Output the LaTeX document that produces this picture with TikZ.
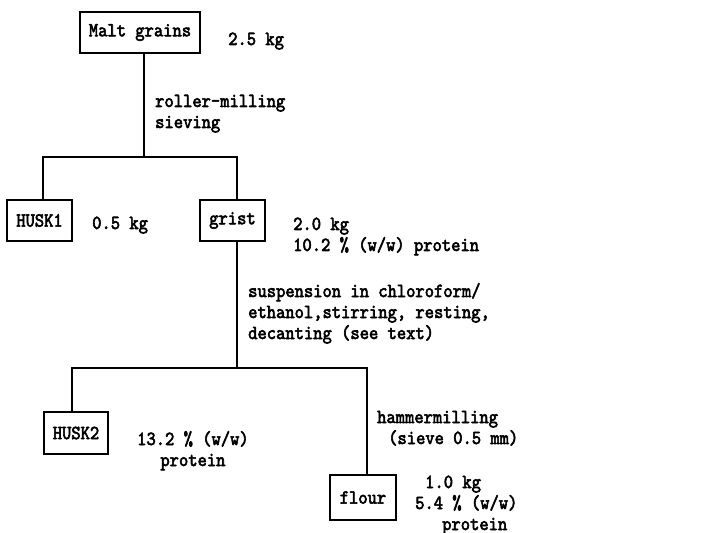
\documentclass[tikz,border=0pt]{standalone}
\usepackage{fontspec}
\newfontfamily\diagfont[FakeBold=2.8,FakeStretch=0.885]{lmmono10-regular.otf}
\begin{document}
\begin{tikzpicture}[x=1bp,y=-1bp,
  fs/.style={font=\diagfont\fontsize{20bp}{21bp}\selectfont},
  box/.style={fs, draw, line width=1.9bp, inner sep=0pt},
  lbl/.style={fs, inner sep=0pt, anchor=base west, align=left},
  conn/.style={line width=1.9bp}]
\useasboundingbox (0,0) rectangle (725,533);
% boxes
\node[box, minimum width=120bp, minimum height=41bp] (malt) at (140,32.5) {Malt grains};
\node[box, minimum width=65bp, minimum height=41bp] (husk1) at (39.5,220.5) {HUSK1};
\node[box, minimum width=65bp, minimum height=41bp] (grist) at (232.5,220.5) {grist};
\node[box, minimum width=64bp, minimum height=42bp] (husk2) at (76,433) {HUSK2};
\node[box, minimum width=66bp, minimum height=45bp] (flour) at (363,497.5) {flour};
% junctions
\coordinate (j1) at (144,157);
\coordinate (l1) at (43,157);
\coordinate (r1) at (237,157);
\coordinate (j2) at (237,368);
\coordinate (l2) at (72,368);
\coordinate (r2) at (367,368);
% connectors
\draw[conn] (malt.south -| j1) -- (j1);
\draw[conn] (l1 |- husk1.north) -- (l1) -- (r1) -- (r1 |- grist.north);
\draw[conn] (grist.south -| j2) -- (j2);
\draw[conn] (l2 |- husk2.north) -- (l2) -- (r2) -- (r2 |- flour.north);
% labels (anchor at baseline of the last line)
\node[lbl] (t1) at (228,45) {2.5 kg};
\node[lbl] (t2) at (155,128) {roller-milling\\sieving};
\node[lbl] (t3) at (92,229) {0.5 kg};
\node[lbl] (t4) at (293,251) {2.0 kg\\10.2 \% (w/w) protein};
\node[lbl] (t5) at (248,339) {suspension in chloroform/\\ethanol,stirring, resting,\\decanting (see text)};
\node[lbl, align=center] (t6) at (137,466) {13.2 \% (w/w)\\protein};
\node[lbl] (t7) at (377,444) {hammermilling\\\hspace*{11bp}(sieve 0.5 mm)};
\node[lbl] (t8) at (415,530) {\hspace*{10bp}1.0 kg\\5.4 \% (w/w)\\\hspace*{27bp}protein};
\end{tikzpicture}
\end{document}
